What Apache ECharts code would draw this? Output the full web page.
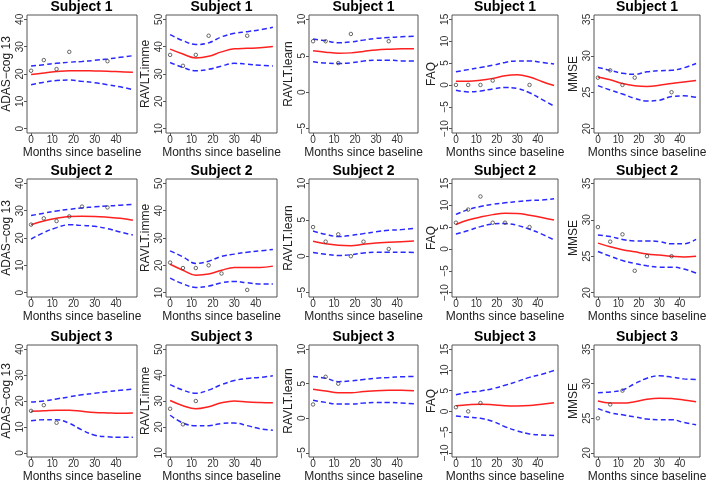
<!DOCTYPE html>
<html>
<head>
<meta charset="utf-8">
<script src="https://cdn.jsdelivr.net/npm/echarts@6/dist/echarts.min.js"></script>
<style>
  html, body { margin: 0; padding: 0; background: #fff; }
  #chart { width: 709px; height: 484px; }
</style>
</head>
<body>
<div id="chart"></div>
<script>
// measures shown in each column
const measures = ["ADAS\u2212cog 13", "RAVLT.imme", "RAVLT.learn", "FAQ", "MMSE"];
const yTicks = [
  [0, 10, 20, 30, 40],
  [10, 20, 30, 40, 50],
  [-5, 0, 5, 10],
  [-10, -5, 0, 5, 10, 15],
  [20, 25, 30, 35]
];
const xTicks = [0, 10, 20, 30, 40];
const xRange = [0, 48];
const fitMonths = [0, 6, 12, 18, 24, 30, 36, 42, 48];

// subject 1
const visits1 = [0, 6, 12, 18, 36];
const obs1 = [
  [21.2, 25.1, 21.8, 28.1, 24.7],
  [37, 33, 37, 44, 44],
  [7, 7, 4, 8, 7],
  [0, 0, 0, 1, 0],
  [27, 28, 26, 27, 25]
];
const fit1 = [
  [19.8, 20.4, 20.9, 21.2, 21.2, 21.1, 21.0, 20.8, 20.6],
  [39.1, 37.3, 35.9, 36.5, 38.1, 39.2, 39.4, 39.6, 40.1],
  [5.7, 5.5, 5.35, 5.4, 5.6, 5.8, 5.9, 5.95, 5.95],
  [0.83, 0.83, 1.06, 1.5, 2.1, 2.3, 1.8, 0.8, -0.15],
  [27.1, 26.7, 26.2, 25.9, 25.8, 25.95, 26.2, 26.4, 26.6]
];
const upper1 = [
  [22.9, 23.4, 23.9, 24.3, 24.6, 25.0, 25.5, 26.1, 26.7],
  [44.4, 42.2, 40.8, 41.4, 43.6, 44.9, 45.5, 46.2, 47.1],
  [7.3, 7.06, 6.8, 6.9, 7.15, 7.4, 7.5, 7.6, 7.7],
  [3.0, 3.5, 4.0, 4.5, 5.15, 5.5, 5.5, 5.15, 4.8],
  [28.4, 28.0, 27.6, 27.45, 27.8, 27.95, 28.0, 28.35, 28.95]
];
const lower1 = [
  [16.1, 17.0, 17.6, 17.8, 17.3, 16.8, 16.1, 15.3, 14.3],
  [34.2, 32.4, 31.2, 31.7, 32.9, 33.9, 33.6, 33.2, 32.9],
  [4.17, 4.0, 3.95, 4.04, 4.27, 4.4, 4.4, 4.3, 4.27],
  [-1.2, -1.6, -1.4, -0.9, -0.6, -0.8, -1.8, -3.3, -4.85],
  [25.9, 25.3, 24.75, 24.15, 23.8, 23.9, 24.4, 24.5, 24.3]
];

// subject 2
const visits2 = [0, 6, 12, 18, 24, 36];
const obs2 = [
  [24.9, 27.2, 26.2, 27.9, 31.5, 31.2],
  [21, 19, 19, 20, 17, 11],
  [4, 2, 3, 0, 2, 1],
  [6, 9, 12, 6, 6, 5],
  [29, 27, 28, 23, 25, 25]
];
const fit2 = [
  [24.85, 26.2, 27.2, 27.9, 28.0, 27.9, 27.6, 27.2, 26.5],
  [20.4, 18.2, 16.4, 16.8, 18.2, 19.2, 19.2, 19.2, 19.7],
  [2.05, 1.7, 1.5, 1.45, 1.64, 1.8, 1.9, 2.0, 2.1],
  [5.6, 6.6, 7.3, 7.85, 8.15, 8.1, 7.7, 7.2, 6.6],
  [26.8, 26.3, 25.9, 25.6, 25.3, 25.15, 25.0, 24.9, 25.0]
];
const upper2 = [
  [28.2, 29.1, 29.9, 30.5, 31.0, 31.4, 31.7, 32.0, 32.3],
  [25.3, 23.1, 20.7, 21.5, 23.3, 24.1, 24.8, 25.3, 25.8],
  [3.45, 3.0, 2.7, 2.85, 3.1, 3.36, 3.55, 3.65, 3.8],
  [7.9, 9.0, 9.7, 10.2, 10.55, 10.85, 11.1, 11.2, 11.5],
  [27.9, 27.7, 27.3, 27.1, 27.1, 27.0, 26.7, 26.7, 27.3]
];
const lower2 = [
  [19.6, 22.0, 23.8, 24.85, 24.6, 24.3, 23.4, 22.2, 21.1],
  [15.3, 13.2, 11.9, 12.4, 13.6, 14.1, 13.6, 13.2, 13.2],
  [0.5, 0.27, 0.1, 0.2, 0.45, 0.55, 0.55, 0.55, 0.5],
  [3.4, 4.2, 5.1, 5.7, 5.8, 5.4, 4.5, 3.4, 2.05],
  [25.65, 25.0, 24.4, 24.0, 23.7, 23.5, 23.5, 23.25, 22.7]
];

// subject 3
const visits3 = [0, 6, 12];
const obs3 = [
  [16.2, 18.4, 11.6],
  [27, 21, 30],
  [2, 6, 5],
  [1, 0, 2],
  [25, 27, 29]
];
const fit3 = [
  [16.0, 16.2, 16.45, 16.45, 16.0, 15.6, 15.4, 15.25, 15.4],
  [30.2, 28.2, 27.0, 27.8, 29.3, 30.0, 29.6, 29.4, 29.3],
  [4.2, 3.95, 3.7, 3.7, 3.86, 4.0, 4.05, 4.05, 4.0],
  [1.36, 1.6, 1.74, 1.6, 1.36, 1.3, 1.4, 1.74, 2.05],
  [27.5, 27.2, 27.2, 27.4, 27.75, 27.9, 27.85, 27.65, 27.4]
];
const upper3 = [
  [19.6, 20.0, 20.8, 21.6, 22.4, 23.0, 23.6, 24.1, 24.6],
  [36.3, 34.2, 33.0, 34.2, 36.3, 37.9, 38.7, 39.1, 39.7],
  [6.05, 5.8, 5.3, 5.4, 5.6, 5.8, 5.9, 6.0, 6.05],
  [4.0, 4.6, 4.9, 5.5, 6.3, 7.2, 8.2, 8.95, 9.85],
  [28.7, 28.8, 29.1, 30.0, 30.8, 31.15, 30.95, 30.7, 30.6]
];
const lower3 = [
  [12.4, 12.8, 12.8, 11.4, 8.8, 6.8, 6.2, 6.0, 6.0],
  [24.5, 21.5, 20.5, 20.5, 21.3, 21.5, 20.5, 19.3, 18.7],
  [2.6, 2.3, 2.05, 2.05, 2.2, 2.3, 2.3, 2.2, 2.1],
  [-1.1, -1.4, -1.67, -2.4, -3.7, -4.7, -5.45, -5.7, -5.8],
  [26.4, 25.8, 25.5, 25.2, 24.9, 24.8, 24.8, 24.4, 24.05]
];

const subjects = [
  { visits: visits1, obs: obs1, fit: fit1, upper: upper1, lower: lower1 },
  { visits: visits2, obs: obs2, fit: fit2, upper: upper2, lower: lower2 },
  { visits: visits3, obs: obs3, fit: fit3, upper: upper3, lower: lower3 }
];

// panel layout (pixels)
const colLeft = [26, 166, 309, 452, 594];
const colWidth = [111, 111, 109, 106, 106];
const rowTop = [15, 179, 345];
const rowHeight = [118, 118, 116];

const font = "'Liberation Sans', Arial, Helvetica, sans-serif";
const minus = v => String(v).replace("-", "\u2212");
const pad = (lo, hi) => [lo - 0.04 * (hi - lo), hi + 0.04 * (hi - lo)];

const chart = echarts.init(document.getElementById("chart"));

const grids = [];
const xAxes = [];
const yAxes = [];
const titles = [];
const series = [];

subjects.forEach((s, r) => {
  measures.forEach((m, c) => {
    const i = r * 5 + c;
    grids.push({
      left: colLeft[c],
      top: rowTop[r],
      width: colWidth[c],
      height: rowHeight[r],
      show: true,
      borderColor: "#555",
      borderWidth: 1,
      backgroundColor: "transparent"
    });
    titles.push({
      text: "Subject " + (r + 1),
      left: colLeft[c] + colWidth[c] / 2,
      top: rowTop[r] - 15,
      textAlign: "center",
      padding: 0,
      textStyle: { fontSize: 14, fontWeight: "bold", color: "#000", fontFamily: font }
    });
    const xr = pad(xRange[0], xRange[1]);
    xAxes.push({
      gridIndex: i,
      type: "value",
      min: xr[0],
      max: xr[1],
      splitLine: { show: false },
      axisLine: { show: false, onZero: false },
      axisTick: { show: true, length: 3, customValues: xTicks, lineStyle: { color: "#555" } },
      axisLabel: {
        customValues: xTicks,
        fontSize: 10,
        color: "#333",
        margin: 2,
        fontFamily: font
      },
      name: "Months since baseline",
      nameLocation: "middle",
      nameGap: 14,
      nameTextStyle: { fontSize: 12, color: "#222", fontFamily: font }
    });
    const yt = yTicks[c];
    const yr = pad(yt[0], yt[yt.length - 1]);
    yAxes.push({
      gridIndex: i,
      type: "value",
      min: yr[0],
      max: yr[1],
      splitLine: { show: false },
      axisLine: { show: false, onZero: false },
      axisTick: { show: true, length: 3, customValues: yt, lineStyle: { color: "#555" } },
      axisLabel: {
        customValues: yt,
        rotate: 90,
        fontSize: 10,
        color: "#333",
        margin: 2,
        fontFamily: font,
        formatter: minus
      },
      name: m,
      nameLocation: "middle",
      nameRotate: 90,
      nameGap: 14,
      nameTextStyle: { fontSize: 12, color: "#222", fontFamily: font }
    });
    series.push({
      type: "scatter",
      xAxisIndex: i,
      yAxisIndex: i,
      symbol: "circle",
      symbolSize: 3.5,
      itemStyle: { color: "transparent", borderColor: "#444", borderWidth: 1 },
      data: s.visits.map((t, k) => [t, s.obs[c][k]]),
      z: 3
    });
    [["upper", "#2a2aff", [5, 3]], ["lower", "#2a2aff", [5, 3]], ["fit", "#ff2020", "solid"]].forEach(([key, col, dash]) => {
      series.push({
        type: "line",
        xAxisIndex: i,
        yAxisIndex: i,
        smooth: 0.4,
        symbol: "none",
        lineStyle: { color: col, width: 1.5, type: dash },
        data: fitMonths.map((t, k) => [t, s[key][c][k]]),
        z: 2
      });
    });
  });
});

chart.setOption({
  animation: false,
  backgroundColor: "#fff",
  title: titles,
  grid: grids,
  xAxis: xAxes,
  yAxis: yAxes,
  series: series
});
</script>
</body>
</html>
